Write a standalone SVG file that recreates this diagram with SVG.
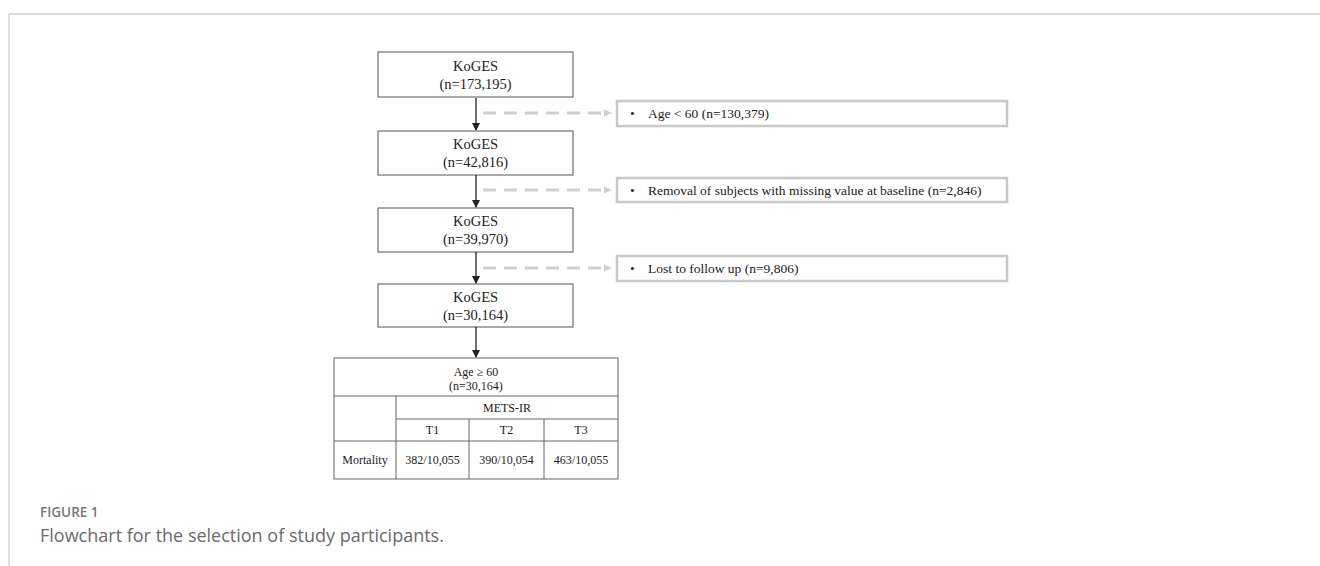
<svg xmlns="http://www.w3.org/2000/svg" width="1320" height="566" viewBox="0 0 1320 566">
<style>
.box{fill:#fff;stroke:#555;stroke-width:1}
.ex{fill:#fff;stroke:#c8c8c8;stroke-width:2.5}
.t{font-family:"Liberation Serif",serif;font-size:14.5px;fill:#222;text-anchor:middle}
.e{font-family:"Liberation Serif",serif;font-size:13.5px;fill:#222}
.tb{font-family:"Liberation Serif",serif;font-size:12px;fill:#222;text-anchor:middle}
.arr{stroke:#222;stroke-width:1.3;fill:none}
.dash{stroke:#cfcfcf;stroke-width:3;stroke-dasharray:13 8;fill:none}
.tl{stroke:#666;stroke-width:1;fill:none}
</style>
<defs>
<marker id="ah" markerWidth="8" markerHeight="8" refX="7" refY="4" orient="auto" markerUnits="userSpaceOnUse">
<path d="M0,0 L8,4 L0,8 Z" fill="#222"/>
</marker>
</defs>
<g id="frame">
<line x1="9" y1="14" x2="1320" y2="14" stroke="#cfcfcf" stroke-width="1.3"/>
<line x1="9" y1="14" x2="9" y2="566" stroke="#cfcfcf" stroke-width="1.3"/>
</g>
<g id="n1"><rect class="box" x="378" y="52" width="195" height="45"/><text class="t" x="475.5" y="71">KoGES</text><text class="t" x="475.5" y="89">(n=173,195)</text></g>
<g id="n2"><rect class="box" x="378" y="131" width="195" height="44"/><text class="t" x="475.5" y="149">KoGES</text><text class="t" x="475.5" y="167">(n=42,816)</text></g>
<g id="n3"><rect class="box" x="378" y="208" width="195" height="44"/><text class="t" x="475.5" y="226">KoGES</text><text class="t" x="475.5" y="244">(n=39,970)</text></g>
<g id="n4"><rect class="box" x="378" y="284" width="195" height="43"/><text class="t" x="475.5" y="302">KoGES</text><text class="t" x="475.5" y="320">(n=30,164)</text></g>
<g id="x1"><rect class="ex" x="617" y="101" width="390" height="25"/><text class="e" x="630" y="118">•</text><text class="e" x="648" y="118">Age &lt; 60 (n=130,379)</text></g>
<g id="x2"><rect class="ex" x="617" y="178" width="390" height="24"/><text class="e" x="630" y="195">•</text><text class="e" x="648" y="195">Removal of subjects with missing value at baseline (n=2,846)</text></g>
<g id="x3"><rect class="ex" x="617" y="256" width="390" height="25"/><text class="e" x="630" y="273">•</text><text class="e" x="648" y="273">Lost to follow up (n=9,806)</text></g>
<g id="table">
<rect class="tl" x="334" y="358" width="284" height="121" fill="#fff"/>
<line class="tl" x1="334" y1="396" x2="618" y2="396"/>
<line class="tl" x1="396" y1="419" x2="618" y2="419"/>
<line class="tl" x1="334" y1="441" x2="618" y2="441"/>
<line class="tl" x1="396" y1="396" x2="396" y2="479"/>
<line class="tl" x1="469" y1="419" x2="469" y2="479"/>
<line class="tl" x1="544" y1="419" x2="544" y2="479"/>
<text class="tb" x="476" y="376">Age ≥ 60</text>
<text class="tb" x="476" y="390">(n=30,164)</text>
<text class="tb" x="507" y="412">METS-IR</text>
<text class="tb" x="432.5" y="434">T1</text>
<text class="tb" x="506.5" y="434">T2</text>
<text class="tb" x="581" y="434">T3</text>
<text class="tb" x="365" y="464">Mortality</text>
<text class="tb" x="432.5" y="464">382/10,055</text>
<text class="tb" x="506.5" y="464">390/10,054</text>
<text class="tb" x="581" y="464">463/10,055</text>
</g>
<g id="connectors">
<line class="arr" x1="476" y1="98" x2="476" y2="130" marker-end="url(#ah)"/>
<line class="arr" x1="476" y1="175" x2="476" y2="207" marker-end="url(#ah)"/>
<line class="arr" x1="476" y1="252" x2="476" y2="283" marker-end="url(#ah)"/>
<line class="arr" x1="476" y1="327" x2="476" y2="357" marker-end="url(#ah)"/>
<line class="dash" x1="483" y1="113" x2="604" y2="113"/>
<path d="M604,109.5 L612,113 L604,116.5 Z" fill="#cfcfcf"/>
<line class="dash" x1="483" y1="190" x2="604" y2="190"/>
<path d="M604,186.5 L612,190 L604,193.5 Z" fill="#cfcfcf"/>
<line class="dash" x1="483" y1="268" x2="604" y2="268"/>
<path d="M604,264.5 L612,268 L604,271.5 Z" fill="#cfcfcf"/>
</g>
<g id="caption">
<text x="40" y="517" font-family="'Open Sans',sans-serif" font-size="13.5px" font-weight="600" fill="#777">FIGURE 1</text>
<text x="40" y="542" font-family="'Open Sans',sans-serif" font-size="18px" fill="#6b6b6b">Flowchart for the selection of study participants.</text>
</g>
</svg>
